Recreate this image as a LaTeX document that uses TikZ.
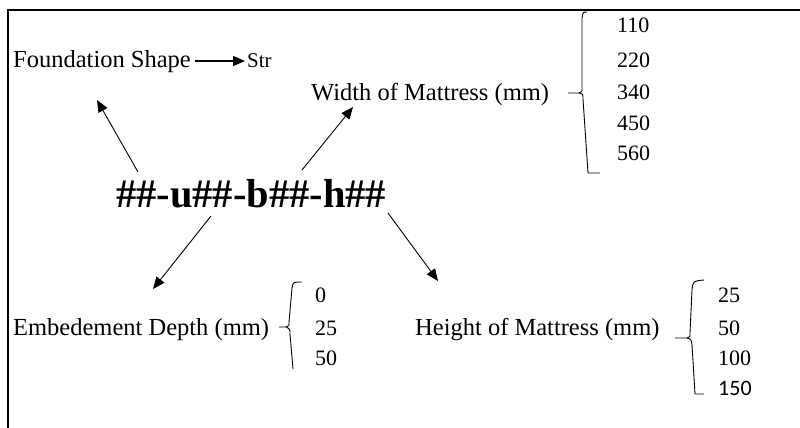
\documentclass[tikz,border=0pt]{standalone}
\usepackage{fontspec}
\setmainfont{Liberation Serif}
\newfontfamily\calibrifont{Carlito}
\usetikzlibrary{arrows.meta}
\begin{document}
\begin{tikzpicture}[x=1pt,y=-1pt,
  lbl/.style={anchor=base west,inner sep=0pt,font=\fontsize{24.5}{28}\selectfont},
  num/.style={anchor=base west,inner sep=0pt,font=\fontsize{22}{25}\selectfont},
  arr/.style={line width=0.9pt,-{Triangle[length=12pt,width=10pt]}},
  brace/.style={line width=0.9pt,line join=round}]
\useasboundingbox (0,0) rectangle (800,428);
% frame
\draw[line width=2pt] (800,10) -- (8,10) -- (8,428);
% texts
\node[lbl] (fs) at (13,67) {Foundation Shape};
\node[anchor=base west,inner sep=0pt,font=\fontsize{21}{24}\selectfont] (str) at (247,67) {Str};
\node[anchor=base west,inner sep=0pt,font=\fontsize{40.5}{46}\selectfont\bfseries] (m) at (116,207) {\#\#-u\#\#-b\#\#-h\#\#};
\node[lbl] (wm) at (311,100) {Width of Mattress (mm)};
\node[lbl] (ed) at (13,335) {Embedement Depth (mm)};
\node[lbl] (hm) at (415,335) {Height of Mattress (mm)};
% width values
\node[num] (w1) at (617,33) {110};
\node[num] (w2) at (617,67) {220};
\node[num] (w3) at (617,99) {340};
\node[num] (w4) at (617,130) {450};
\node[num] (w5) at (617,160) {560};
% depth values
\node[num] (d1) at (315,302) {0};
\node[num] (d2) at (315,335) {25};
\node[num] (d3) at (315,365) {50};
% height values
\node[num] (h1) at (718,302) {25};
\node[num] (h2) at (718,335) {50};
\node[num] (h3) at (718,365) {100};
\node[anchor=base west,inner sep=0pt,font=\fontsize{22}{26}\calibrifont] (h4) at (718,395) {150};
% arrow endpoints
\coordinate (a1s) at (138,172); \coordinate (a1e) at (97,100);
\coordinate (a2s) at (302,170); \coordinate (a2e) at (353,107);
\coordinate (a3s) at (211,216); \coordinate (a3e) at (153,289);
\coordinate (a4s) at (388,213); \coordinate (a4e) at (438,281);
\coordinate (a5s) at (195,61);  \coordinate (a5e) at (245,61);
\draw[arr] (a1s) -- (a1e);
\draw[arr] (a2s) -- (a2e);
\draw[arr] (a3s) -- (a3e);
\draw[arr] (a4s) -- (a4e);
\draw[arr,line width=1.3pt] (a5s) -- (a5e);
% braces
\draw[brace] (587,12) .. controls (583,12) .. (582,18) -- (582,88) .. controls (582,92) .. (579,93) -- (568,93);
\draw[brace] (579,93) .. controls (583,94) .. (583,99) -- (588,173) -- (600,173);
\draw[brace] (302,282) .. controls (293,282) .. (292,288) -- (289,322) .. controls (289,326) .. (286,327) -- (279,327);
\draw[brace] (286,327) .. controls (290,329) .. (290,334) -- (293,369);
\draw[brace] (704,280) .. controls (693,281) .. (692,290) -- (690,333) .. controls (690,337) .. (687,338) -- (675,338);
\draw[brace] (687,338) .. controls (691,339) .. (692,345) -- (695,394) -- (704,394);
\end{tikzpicture}
\end{document}
